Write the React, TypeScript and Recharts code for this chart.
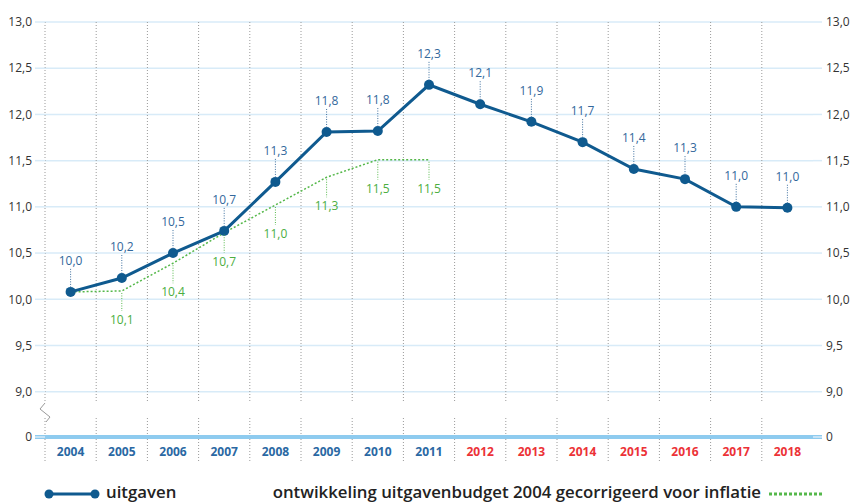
import React from "react";
import { ComposedChart, Line, XAxis, YAxis, CartesianGrid, ReferenceLine, LabelList } from "recharts";

// axis break: this value is drawn as "0"
const BREAK = 8.51;

const years = ["2004", "2005", "2006", "2007", "2008", "2009", "2010", "2011", "2012", "2013", "2014", "2015", "2016", "2017", "2018"];
const uitgaven = [10.08, 10.23, 10.5, 10.74, 11.27, 11.81, 11.82, 12.32, 12.11, 11.92, 11.7, 11.41, 11.3, 11.0, 10.99];
const uitgavenLabels = ["10,0", "10,2", "10,5", "10,7", "11,3", "11,8", "11,8", "12,3", "12,1", "11,9", "11,7", "11,4", "11,3", "11,0", "11,0"];
const inflatie = [10.08, 10.09, 10.39, 10.72, 11.02, 11.32, 11.51, 11.51, null, null, null, null, null, null, null];
const inflatieLabels = ["", "10,1", "10,4", "10,7", "11,0", "11,3", "11,5", "11,5", "", "", "", "", "", "", ""];
const yTicks = [BREAK, 9, 9.5, 10, 10.5, 11, 11.5, 12, 12.5, 13];
const firstForecastYear = "2012";

const data = years.map((year, i) => ({
    year,
    uitgaven: uitgaven[i],
    uitgavenLabel: uitgavenLabels[i],
    inflatie: inflatie[i],
    inflatieLabel: inflatieLabels[i],
}));

const FONT = "'Open Sans', sans-serif";
const BLUE = "#0f5a8f";
const GREEN = "#55b84a";
const GRID = "#d8ebf8";

const fmtTick = (v: number) => (v === BREAK ? "0" : v.toFixed(1).replace(".", ","));

const YearTick = (props: any) => {
    const { x, y, payload } = props;
    const forecast = payload.value >= firstForecastYear;
    return (
        <text x={x} y={y + 19} textAnchor="middle" fontFamily={FONT} fontSize={12} fontWeight={700} fill={forecast ? "#ec3237" : "#2a68a3"}>
            {payload.value}
        </text>
    );
};

const BlueLabel = (props: any) => {
    const { x, y, value } = props;
    if (!value || y == null) return null;
    return (
        <g>
            <line x1={x} x2={x} y1={y - 23} y2={y - 4} stroke="#3d6f9e" strokeWidth={1} strokeDasharray="1 1.5" />
            <text x={x} y={y - 27} textAnchor="middle" fontFamily={FONT} fontSize={12} fill="#33689c">{value}</text>
        </g>
    );
};

const GreenLabel = (props: any) => {
    const { x, y, value } = props;
    if (!value || y == null) return null;
    return (
        <g>
            <line x1={x} x2={x} y1={y + 2} y2={y + 20} stroke={GREEN} strokeWidth={1} strokeDasharray="1 1.5" />
            <text x={x} y={y + 33} textAnchor="middle" fontFamily={FONT} fontSize={12} fill="#4cae41">{value}</text>
        </g>
    );
};

// dotted column separators, interrupted at the axis break
const separator = (withBreak: boolean) => (props: any) => {
    const { x1, y1, y2 } = props;
    const top = Math.min(y1, y2);
    const bottom = Math.max(y1, y2);
    return (
        <g>
            <line x1={x1} x2={x1} y1={top} y2={bottom - 35} stroke="#9a9a9a" strokeDasharray="1 2" />
            <line x1={x1} x2={x1} y1={bottom - 19} y2={bottom + 25} stroke="#9a9a9a" strokeDasharray="1 2" />
            {withBreak && (
                <polyline
                    points={`${x1},${bottom - 34} ${x1 - 5},${bottom - 28} ${x1 + 5},${bottom - 20} ${x1 + 1},${bottom - 15}`}
                    fill="none" stroke="#9a9a9a" strokeWidth={1}
                />
            )}
        </g>
    );
};

const zeroLine = (props: any) => {
    const { x1, x2, y1 } = props;
    return <line x1={Math.min(x1, x2) - 10} x2={Math.max(x1, x2) + 9} y1={y1} y2={y1} stroke="#8ecbef" strokeWidth={4} />;
};

export default function App() {
    return (
        <div style={{ position: "absolute", left: 0, top: 0, width: 851, height: 502, background: "#fff", overflow: "hidden" }}>
            <ComposedChart width={851} height={502} data={data} margin={{ top: 22, right: 0, bottom: 0, left: 0 }}>
                <CartesianGrid yAxisId="left" horizontal vertical={false} stroke={GRID} strokeWidth={1.5} />
                <XAxis dataKey="year" scale="band" tick={<YearTick />} tickLine={false} axisLine={false} tickSize={0} tickMargin={0} interval={0} height={65} />
                <YAxis yAxisId="left" width={45} domain={[BREAK, 13]} ticks={yTicks} tickFormatter={fmtTick}
                    axisLine={false} tickLine={{ stroke: GRID, strokeWidth: 1.5 }} tickSize={10} tickMargin={3}
                    tick={{ fill: "#333", fontSize: 12, fontFamily: FONT }} allowDataOverflow />
                <YAxis yAxisId="right" orientation="right" width={38} domain={[BREAK, 13]} ticks={yTicks} tickFormatter={fmtTick}
                    axisLine={false} tickLine={{ stroke: GRID, strokeWidth: 1.5 }} tickSize={9} tickMargin={4}
                    tick={{ fill: "#333", fontSize: 12, fontFamily: FONT, textAnchor: "start" }} allowDataOverflow />
                {years.map((y, i) => (
                    <ReferenceLine key={y} yAxisId="left" x={y} position="start" shape={separator(i === 0)} />
                ))}
                <ReferenceLine yAxisId="left" x={years[years.length - 1]} position="end" shape={separator(true)} />
                <ReferenceLine yAxisId="left" y={BREAK} shape={zeroLine} />
                <Line yAxisId="left" dataKey="inflatie" stroke={GREEN} strokeWidth={1.5} strokeDasharray="2 2" dot={false} isAnimationActive={false} connectNulls={false}>
                    <LabelList dataKey="inflatieLabel" content={<GreenLabel />} />
                </Line>
                <Line yAxisId="left" dataKey="uitgaven" stroke={BLUE} strokeWidth={3} dot={{ r: 5, fill: BLUE, stroke: BLUE, strokeWidth: 0 }} isAnimationActive={false}>
                    <LabelList dataKey="uitgavenLabel" content={<BlueLabel />} />
                </Line>
            </ComposedChart>
            <svg width={851} height={22} style={{ position: "absolute", left: 0, top: 480 }}>
                <line x1={49} x2={95} y1={14} y2={14} stroke={BLUE} strokeWidth={3} />
                <circle cx={49} cy={14} r={4.5} fill={BLUE} />
                <circle cx={95} cy={14} r={4.5} fill={BLUE} />
                <text x={106} y={18} fontFamily={FONT} fontSize={16.8} fontWeight={600} fill="#222">uitgaven</text>
                <text x={761} y={18} textAnchor="end" fontFamily={FONT} fontSize={16.8} fontWeight={600} fill="#222">ontwikkeling uitgavenbudget 2004 gecorrigeerd voor inflatie</text>
                <line x1={769} x2={824} y1={14} y2={14} stroke={GREEN} strokeWidth={3} strokeDasharray="3 2" />
            </svg>
        </div>
    );
}
